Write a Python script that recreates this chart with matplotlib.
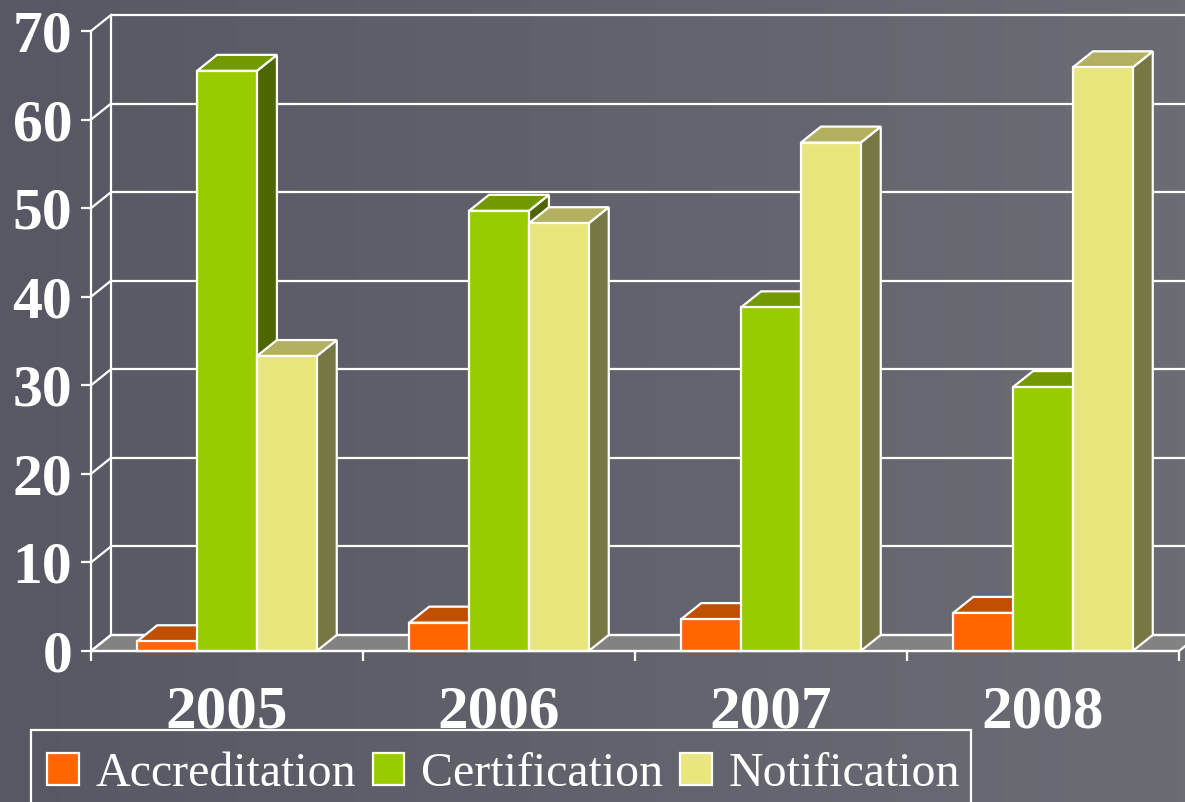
import matplotlib
matplotlib.use("Agg")
import matplotlib.pyplot as plt
from matplotlib.patches import Rectangle, Polygon, Patch
import numpy as np

# data
years = ["2005", "2006", "2007", "2008"]
series = ["Accreditation", "Certification", "Notification"]
accreditation = [1.1, 3.2, 3.6, 4.3]
certification = [65.5, 49.7, 38.8, 29.8]
notification = [33.3, 48.3, 57.4, 65.9]
yticks = [0, 10, 20, 30, 40, 50, 60, 70]

# colours: front, top, side
colors = {
    "Accreditation": ("#ff6600", "#c04f00", "#803300"),
    "Certification": ("#99cc00", "#739900", "#4d6600"),
    "Notification": ("#e9e67e", "#b3b062", "#777743"),
}
values = [accreditation, certification, notification]

W, H = 1185, 802
fig = plt.figure(figsize=(W / 100, H / 100), dpi=100)
plt.rcParams["font.family"] = ["Liberation Serif", "DejaVu Serif"]

# background gradient
bg = fig.add_axes([0, 0, 1, 1], zorder=-10)
grad = np.linspace(0, 1, 256)[None, :]
left_c = np.array([88, 88, 100]) / 255
right_c = np.array([108, 108, 117]) / 255
img = left_c[None, None, :] * (1 - grad[..., None]) + right_c[None, None, :] * grad[..., None]
bg.imshow(img, aspect="auto", extent=[0, 1, 0, 1])
bg.set_axis_off()

# front plot area
x0p, x1p, y0p, y1p = 91, 1179, 651, 31
ax = fig.add_axes([x0p / W, (H - y0p) / H, (x1p - x0p) / W, (y0p - y1p) / H])
ax.set_facecolor("none")
ax.set_xlim(-0.5, len(years) - 0.5)
ax.set_ylim(0, 70)

# depth offset of the 3d look (20 px right, 16 px up)
DX = 20 / ((x1p - x0p) / len(years))
DY = 16 / ((y0p - y1p) / 70)

lw = 1.6
xl, xr = -0.5, len(years) - 0.5

# floor
ax.add_patch(Polygon([(xl, 0), (xr, 0), (xr + DX, DY), (xl + DX, DY)],
                     closed=True, facecolor="#828282", edgecolor="white",
                     lw=lw, clip_on=False, zorder=1))
# back wall gridlines and side wall diagonals
for v in yticks:
    ax.plot([xl + DX, xr + DX], [v + DY, v + DY], color="white", lw=lw,
            clip_on=False, zorder=2, solid_capstyle="butt")
    ax.plot([xl, xl + DX], [v, v + DY], color="white", lw=lw,
            clip_on=False, zorder=2)
ax.plot([xl + DX, xl + DX], [DY, 70 + DY], color="white", lw=lw,
        clip_on=False, zorder=2)

# bars
group = 0.66
bw = group / len(series)
z = 3
for i in range(len(years)):
    for j, name in enumerate(series):
        v = values[j][i]
        front, top, side = colors[name]
        x = i - group / 2 + j * bw
        ax.add_patch(Polygon([(x + bw, 0), (x + bw + DX, DY), (x + bw + DX, v + DY), (x + bw, v)],
                             closed=True, facecolor=side, edgecolor="white",
                             lw=lw, clip_on=False, zorder=z))
        ax.add_patch(Polygon([(x, v), (x + bw, v), (x + bw + DX, v + DY), (x + DX, v + DY)],
                             closed=True, facecolor=top, edgecolor="white",
                             lw=lw, clip_on=False, zorder=z))
        ax.add_patch(Rectangle((x, 0), bw, v, facecolor=front, edgecolor="white",
                               lw=lw, clip_on=False, zorder=z))
        z += 1

# axes styling
for s in ["top", "right"]:
    ax.spines[s].set_visible(False)
for s in ["left", "bottom"]:
    ax.spines[s].set_color("white")
    ax.spines[s].set_linewidth(lw)
    ax.spines[s].set_zorder(50)
ax.set_yticks(yticks)
ax.set_yticklabels([str(t) for t in yticks])
ax.set_xticks(np.arange(-0.5, len(years), 1.0))
ax.set_xticklabels([])
ax.set_xticks(np.arange(len(years)), minor=True)
ax.set_xticklabels(years, minor=True)
ax.tick_params(axis="both", which="major", colors="white", length=7.5, width=lw, direction="out")
ax.tick_params(axis="y", labelsize=43, pad=6)
ax.tick_params(axis="x", which="minor", length=0, labelsize=44, pad=24, colors="white")
for lab in ax.get_yticklabels() + ax.get_xticklabels(minor=True):
    lab.set_fontweight("bold")
    lab.set_color("white")

# legend (frame drawn separately so the top edge sits higher than the items)
handles = [Patch(facecolor=colors[n][0], edgecolor="white", lw=lw) for n in series]
leg = fig.legend(handles, series, loc="upper left", ncol=3,
                 bbox_to_anchor=(47 / W, 1 - 752 / H), borderaxespad=0,
                 frameon=False, fontsize=34.5, handlelength=0.66,
                 handleheight=0.66, handletextpad=0.35, columnspacing=0.35,
                 borderpad=0, labelcolor="white")
fig.add_artist(Rectangle((31 / W, -0.05), (971 - 31) / W, 0.05 + (H - 730) / H,
                         transform=fig.transFigure, facecolor="none",
                         edgecolor="white", lw=lw))

fig.savefig("out.png", dpi=100)
